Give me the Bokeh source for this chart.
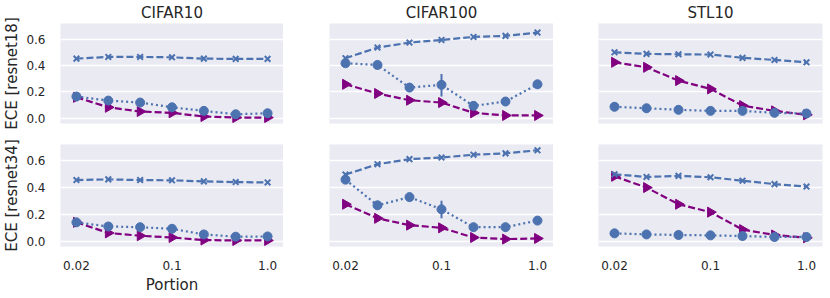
import numpy as np
from bokeh.plotting import figure
from bokeh.layouts import column, row
from bokeh.models import FixedTicker, NumeralTickFormatter, Range1d
from bokeh.embed import file_html
from bokeh.resources import INLINE

# ---------------- data ----------------
portions = ["0.02", "0.04", "0.06", "0.1", "0.2", "0.5", "1.0"]
shown_ticks = ["0.02", "0.1", "1.0"]
datasets = ["CIFAR10", "CIFAR100", "STL10"]
models = ["resnet18", "resnet34"]
y_ticks = [0.0, 0.2, 0.4, 0.6]

# series "x" (blue dashed, x markers)
cifar10_r18_x = [0.453, 0.466, 0.466, 0.463, 0.453, 0.451, 0.451]
cifar100_r18_x = [0.456, 0.537, 0.575, 0.595, 0.618, 0.626, 0.651]
stl10_r18_x = [0.501, 0.489, 0.486, 0.484, 0.459, 0.443, 0.425]
cifar10_r34_x = [0.455, 0.460, 0.455, 0.453, 0.445, 0.440, 0.437]
cifar100_r34_x = [0.496, 0.573, 0.611, 0.623, 0.644, 0.654, 0.677]
stl10_r34_x = [0.498, 0.478, 0.486, 0.476, 0.450, 0.425, 0.407]

# series "o" (blue dotted, circles)
cifar10_r18_o = [0.165, 0.134, 0.119, 0.083, 0.056, 0.030, 0.038]
cifar100_r18_o = [0.418, 0.405, 0.233, 0.254, 0.094, 0.127, 0.258]
stl10_r18_o = [0.087, 0.076, 0.064, 0.056, 0.056, 0.041, 0.036]
cifar10_r34_o = [0.140, 0.109, 0.104, 0.092, 0.050, 0.033, 0.035]
cifar100_r34_o = [0.458, 0.267, 0.328, 0.237, 0.104, 0.104, 0.153]
stl10_r34_o = [0.058, 0.050, 0.046, 0.043, 0.038, 0.031, 0.031]

# series ">" (purple dashed, right triangles)
cifar10_r18_t = [0.159, 0.083, 0.051, 0.041, 0.013, 0.005, 0.005]
cifar100_r18_t = [0.258, 0.188, 0.137, 0.119, 0.041, 0.021, 0.021]
stl10_r18_t = [0.425, 0.387, 0.286, 0.223, 0.096, 0.056, 0.026]
cifar10_r34_t = [0.140, 0.061, 0.040, 0.027, 0.008, 0.005, 0.005]
cifar100_r34_t = [0.275, 0.170, 0.119, 0.099, 0.027, 0.015, 0.020]
stl10_r34_t = [0.483, 0.399, 0.275, 0.216, 0.086, 0.046, 0.025]

# visible error bars on the circle series
cifar100_r18_err_at = ["0.1"]
cifar100_r18_err_lo = [0.165]
cifar100_r18_err_hi = [0.337]
cifar100_r34_err_at = ["0.1"]
cifar100_r34_err_lo = [0.170]
cifar100_r34_err_hi = [0.300]

series = {
    ("CIFAR10", "resnet18"): (cifar10_r18_x, cifar10_r18_o, cifar10_r18_t, [], [], []),
    ("CIFAR100", "resnet18"): (cifar100_r18_x, cifar100_r18_o, cifar100_r18_t,
                               cifar100_r18_err_at, cifar100_r18_err_lo, cifar100_r18_err_hi),
    ("STL10", "resnet18"): (stl10_r18_x, stl10_r18_o, stl10_r18_t, [], [], []),
    ("CIFAR10", "resnet34"): (cifar10_r34_x, cifar10_r34_o, cifar10_r34_t, [], [], []),
    ("CIFAR100", "resnet34"): (cifar100_r34_x, cifar100_r34_o, cifar100_r34_t,
                               cifar100_r34_err_at, cifar100_r34_err_lo, cifar100_r34_err_hi),
    ("STL10", "resnet34"): (stl10_r34_x, stl10_r34_o, stl10_r34_t, [], [], []),
}

# ---------------- style ----------------
BLUE = "#4C72B0"
PURPLE = "#800080"
BG = "#EAEAF2"
TXT = "#262626"
FONT = "DejaVu Sans"

xs = list(range(len(portions)))
col_left = [47, 46, 45]
col_right = [0, 0, 5]
frame_w = [223, 224, 224]

rows = []
for r, model in enumerate(models):
    figs = []
    for c, ds in enumerate(datasets):
        fx, fo, ft, e_at, e_lo, e_hi = series[(ds, model)]
        kw = dict(frame_width=frame_w[c], frame_height=100 if r == 0 else 102,
                  output_backend="svg", toolbar_location=None,
                  x_range=Range1d(-0.5, 6.5), y_range=Range1d(-0.04, 0.72),
                  min_border_left=col_left[c], min_border_right=col_right[c],
                  min_border_top=0 if r == 0 else 10,
                  min_border_bottom=11 if r == 0 else 40,
                  background_fill_color=BG, border_fill_color="white")
        if r == 0:
            kw["title"] = ds
        p = figure(**kw)
        p.outline_line_color = None
        if r == 0:
            p.title.align = "center"
            p.title.text_font = FONT
            p.title.text_font_size = "15px"
            p.title.text_font_style = "normal"
            p.title.text_color = TXT
            p.title.standoff = 3

        # grid
        p.xgrid.grid_line_color = None
        p.ygrid.grid_line_color = "white"
        p.ygrid.grid_line_width = 1.3

        # axes
        for ax in (p.xaxis, p.yaxis):
            ax.axis_line_color = None
            ax.major_tick_line_color = None
            ax.minor_tick_line_color = None
            ax.major_label_text_font = FONT
            ax.major_label_text_font_size = "12px"
            ax.major_label_text_color = TXT
            ax.axis_label_text_font = FONT
            ax.axis_label_text_font_size = "15px"
            ax.axis_label_text_font_style = "normal"
            ax.axis_label_text_color = TXT
        p.yaxis.ticker = FixedTicker(ticks=y_ticks)
        p.yaxis.formatter = NumeralTickFormatter(format="0.0")
        p.xaxis.ticker = FixedTicker(ticks=[portions.index(t) for t in shown_ticks])
        p.xaxis.major_label_overrides = {portions.index(t): t for t in shown_ticks}
        p.yaxis.major_label_standoff = 9
        p.xaxis.major_label_standoff = 8
        p.yaxis.axis_label_standoff = 2
        p.xaxis.axis_label_standoff = 3

        if c == 0:
            p.yaxis.axis_label = "ECE [" + model + "]"
        else:
            p.yaxis.visible = False
        if r == 0:
            p.xaxis.visible = False
        elif c == 0:
            p.xaxis.axis_label = "Portion"

        # purple triangles
        p.line(xs, ft, line_color=PURPLE, line_width=2.2, line_dash="7 3")
        p.scatter(xs, ft, marker="triangle", angle=-np.pi / 2, size=10,
                  fill_color=PURPLE, line_color=PURPLE)
        # blue x
        p.line(xs, fx, line_color=BLUE, line_width=2.2, line_dash="7 3")
        p.scatter(xs, fx, marker="x", size=8, line_color=BLUE, line_width=2)
        # blue circles
        p.line(xs, fo, line_color=BLUE, line_width=2.2, line_dash="2 3")
        p.scatter(xs, fo, marker="circle", size=9, fill_color=BLUE, line_color=BLUE)
        if e_at:
            ex = [portions.index(a) for a in e_at]
            p.segment(ex, e_lo, ex, e_hi, line_color=BLUE, line_width=2)
        figs.append(p)
    rows.append(row(*figs))

layout = column(*rows)
open("out.html", "w").write(file_html(layout, INLINE))
